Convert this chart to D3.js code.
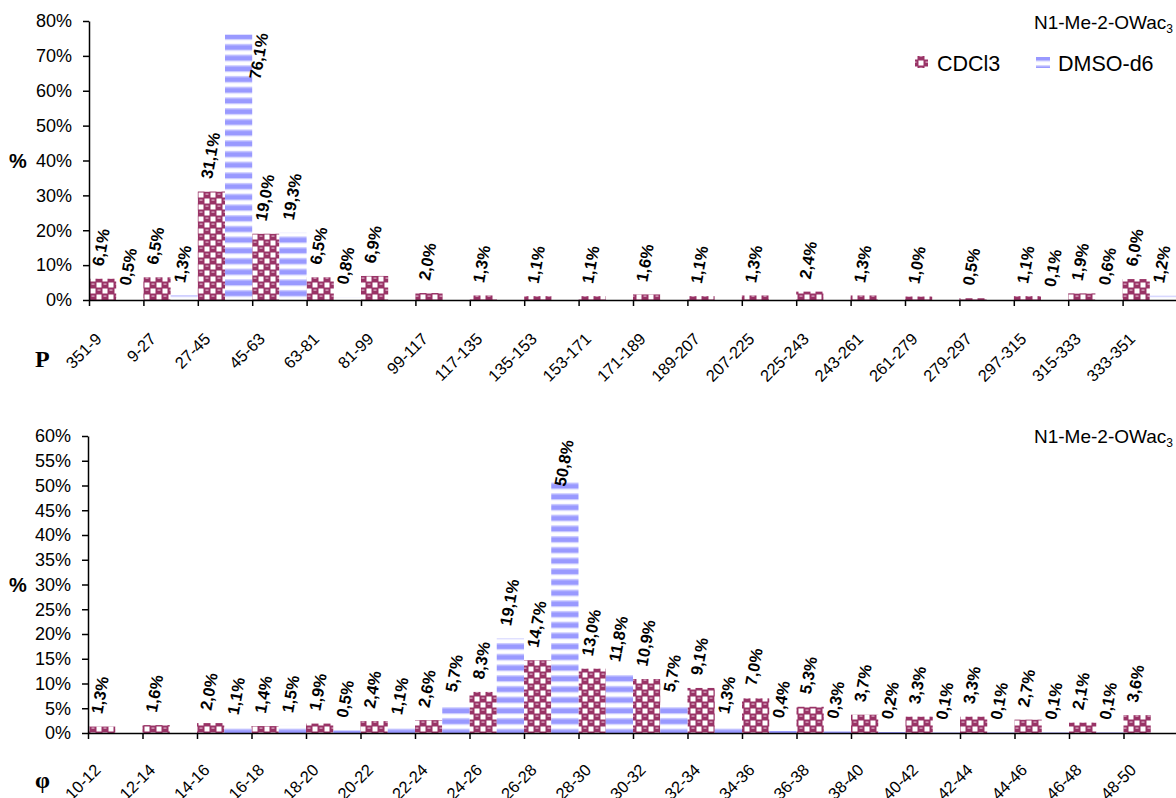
<!DOCTYPE html>
<html>
<head>
<meta charset="utf-8">
<script src="https://cdn.jsdelivr.net/npm/d3@7"></script>
<style>
  html, body { margin: 0; padding: 0; background: #fff; }
  svg { display: block; font-family: "Liberation Sans", Arial, sans-serif; }
</style>
</head>
<body>
<svg id="chart" width="1176" height="798"></svg>
<script>
// ---------- DATA ----------
const seriesNames = ["CDCl3", "DMSO-d6"];
const chartTitle = "N1-Me-2-OWac";
const chartTitleSub = "3";

const topCategories = ["351-9","9-27","27-45","45-63","63-81","81-99","99-117","117-135","135-153","153-171",
  "171-189","189-207","207-225","225-243","243-261","261-279","279-297","297-315","315-333","333-351"];
const topCDCl3 = [6.1, 6.5, 31.1, 19.0, 6.5, 6.9, 2.0, 1.3, 1.1, 1.1, 1.6, 1.1, 1.3, 2.4, 1.3, 1.0, 0.5, 1.1, 1.9, 6.0];
const topDMSO  = [0.5, 1.3, 76.1, 19.3, 0.8, null, null, null, null, null, null, null, null, null, null, null, null, 0.1, 0.6, 1.2];
const topTicks = [0, 10, 20, 30, 40, 50, 60, 70, 80];
const topAxisLetter = "P";

const bottomCategories = ["10-12","12-14","14-16","16-18","18-20","20-22","22-24","24-26","26-28","28-30",
  "30-32","32-34","34-36","36-38","38-40","40-42","42-44","44-46","46-48","48-50"];
const bottomCDCl3 = [1.3, 1.6, 2.0, 1.4, 1.9, 2.4, 2.6, 8.3, 14.7, 13.0, 10.9, 9.1, 7.0, 5.3, 3.7, 3.3, 3.3, 2.7, 2.1, 3.6];
const bottomDMSO  = [null, null, 1.1, 1.5, 0.5, 1.1, 5.7, 19.1, 50.8, 11.8, 5.7, 1.3, 0.4, 0.3, 0.2, 0.1, 0.1, 0.1, 0.1, null];
const bottomTicks = [0, 5, 10, 15, 20, 25, 30, 35, 40, 45, 50, 55, 60];
const bottomAxisLetter = "φ";

// ---------- RENDER ----------
const svg = d3.select("#chart");
const defs = svg.append("defs");

// CDCl3 pattern: maroon balls with white checker squares
const pCD = defs.append("pattern").attr("id", "pCD").attr("patternUnits", "userSpaceOnUse")
  .attr("width", 12).attr("height", 12);
pCD.append("rect").attr("width", 12).attr("height", 12).attr("fill", "#993366");
pCD.append("rect").attr("x", 6.5).attr("y", 0.5).attr("width", 5).attr("height", 5).attr("fill", "#ffffff");
pCD.append("rect").attr("x", 0.5).attr("y", 6.5).attr("width", 5).attr("height", 5).attr("fill", "#ffffff");
pCD.append("rect").attr("x", 1.5).attr("y", 1.5).attr("width", 3).attr("height", 1.2).attr("fill", "#e0b3cc");
pCD.append("rect").attr("x", 7.5).attr("y", 7.5).attr("width", 3).attr("height", 1.2).attr("fill", "#e0b3cc");

// DMSO pattern: horizontal blue stripes
const pDM = defs.append("pattern").attr("id", "pDM").attr("patternUnits", "userSpaceOnUse")
  .attr("width", 10).attr("height", 10.7);
pDM.append("rect").attr("width", 10).attr("height", 10.7).attr("fill", "#ffffff");
pDM.append("rect").attr("y", 1).attr("width", 10).attr("height", 1.2).attr("fill", "#ccccff");
pDM.append("rect").attr("y", 2.2).attr("width", 10).attr("height", 4.6).attr("fill", "#9999ff");
pDM.append("rect").attr("y", 6.8).attr("width", 10).attr("height", 1.2).attr("fill", "#ccccff");

const fills = ["url(#pCD)", "url(#pDM)"];
const fmt = v => v.toFixed(1).replace(".", ",") + "%";

function drawChart(cfg) {
  const n = cfg.cats.length;
  const x = d3.scaleLinear().domain([0, n]).range([cfg.x0, cfg.x1]);
  const band = x(1) - x(0);
  const y = d3.scaleLinear().domain([0, cfg.ticks[cfg.ticks.length - 1]]).range([cfg.yBottom, cfg.yTop]);
  const g = svg.append("g");

  // bars
  const series = [cfg.s1, cfg.s2];
  series.forEach((vals, si) => {
    const data = vals.map((v, i) => ({ v, i })).filter(d => d.v !== null);
    g.append("g").selectAll("rect").data(data).join("rect")
      .attr("x", d => x(d.i) + si * band / 2)
      .attr("width", band / 2)
      .attr("y", d => y(d.v))
      .attr("height", d => y(0) - y(d.v))
      .attr("fill", fills[si]);
  });

  // y axis
  const ya = g.append("g").attr("transform", `translate(${cfg.x0},0)`)
    .call(d3.axisLeft(y).tickValues(cfg.ticks).tickFormat(d => d + "%").tickSize(6).tickSizeOuter(0).tickPadding(11));
  ya.selectAll("text").attr("font-size", 18).attr("font-family", "Liberation Sans, Arial, sans-serif").attr("fill", "#000");
  ya.selectAll("line, path").attr("stroke", "#000").attr("stroke-width", 1.5);

  // x axis (ticks at category boundaries)
  const xa = g.append("g").attr("transform", `translate(0,${cfg.yBottom})`)
    .call(d3.axisBottom(x).tickValues(d3.range(0, n + 1)).tickFormat("").tickSize(6).tickSizeOuter(0));
  xa.selectAll("line, path").attr("stroke", "#000").attr("stroke-width", 1.5);

  // x tick labels
  g.append("g").selectAll("text").data(cfg.cats).join("text")
    .attr("transform", (d, i) => `translate(${x(i) + band / 2 - 13.5},${cfg.yBottom + cfg.xLabelDy}) rotate(-45)`)
    .attr("text-anchor", "end")
    .attr("font-size", 16.5)
    .attr("fill", "#000")
    .text(d => d);

  // bar value labels
  const gap = 13;
  series.forEach((vals, si) => {
    const data = vals.map((v, i) => ({ v, i })).filter(d => d.v !== null);
    g.append("g").selectAll("text").data(data).join("text")
      .attr("font-size", 16.5)
      .attr("font-weight", "bold")
      .attr("fill", "#000")
      .attr("text-anchor", "start")
      .attr("dy", "0.35em")
      .text(d => fmt(d.v))
      .each(function (d) {
        const L = this.getComputedTextLength() * 0.985;
        let cx = x(d.i) + si * band / 2 + band / 4 - 5;
        let ys = y(d.v) - gap;
        if (ys - L < cfg.yTop + cfg.overflowPad) {
          ys = cfg.yTop + cfg.overflowPad + L;
          cx += cfg.overflowDx;
        }
        d3.select(this).attr("transform", `translate(${cx},${ys}) rotate(-80)`);
      });
  });

  // "%" axis label
  g.append("text").attr("x", 9).attr("y", cfg.pctY)
    .attr("font-size", 20).attr("font-weight", "bold").attr("fill", "#000").text("%");

  // axis letter
  g.append("text").attr("x", 35).attr("y", cfg.letterY)
    .attr("font-family", "Liberation Serif, Times New Roman, serif")
    .attr("font-size", 24).attr("font-weight", "bold").attr("fill", "#000").text(cfg.letter);

  // title
  const t = g.append("text").attr("x", 1173).attr("y", cfg.titleY).attr("text-anchor", "end")
    .attr("font-size", 19).attr("fill", "#000");
  t.append("tspan").text(chartTitle);
  t.append("tspan").attr("font-size", 12).attr("dy", 4).text(chartTitleSub);
}

drawChart({
  cats: topCategories, s1: topCDCl3, s2: topDMSO, ticks: topTicks,
  x0: 89, x1: 1177, yBottom: 300, yTop: 21, xLabelDy: 40,
  overflowPad: 12, overflowDx: 21,
  pctY: 168, letter: topAxisLetter, letterY: 367, titleY: 29
});
drawChart({
  cats: bottomCategories, s1: bottomCDCl3, s2: bottomDMSO, ticks: bottomTicks,
  x0: 88, x1: 1178, yBottom: 733, yTop: 436, xLabelDy: 38,
  overflowPad: 4, overflowDx: 0,
  pctY: 592, letter: bottomAxisLetter, letterY: 788, titleY: 443
});

// legend
const legend = svg.append("g");
const legendItems = [
  { name: seriesNames[0], fill: fills[0], sx: 915, sy: 56, sw: 13, sh: 12, tx: 937 },
  { name: seriesNames[1], fill: fills[1], sx: 1036, sy: 57, sw: 14, sh: 11, tx: 1058 }
];
legendItems.forEach(it => {
  legend.append("rect").attr("x", it.sx).attr("y", it.sy).attr("width", it.sw).attr("height", it.sh).attr("fill", it.fill);
  legend.append("text").attr("x", it.tx).attr("y", 71).attr("font-size", 21.5).attr("fill", "#000").text(it.name);
});
</script>
</body>
</html>
